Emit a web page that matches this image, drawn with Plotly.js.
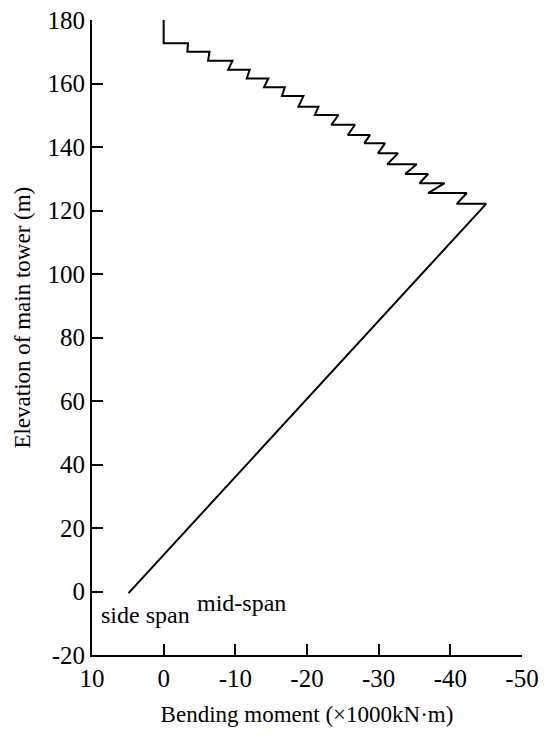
<!DOCTYPE html>
<html>
<head>
<meta charset="utf-8">
<script src="https://cdn.plot.ly/plotly-3.0.1.min.js"></script>
<style>
  body { margin: 0; background: #fff; }
  #chart { width: 550px; height: 736px; }
</style>
</head>
<body>
<div id="chart"></div>
<script>
// bending moment along the tower, read top -> bottom (x1000 kN·m)
const moment = [0, 0, -3.4, -3.3, -6.4, -6.2, -9.6, -9.0, -12.0, -11.6, -14.6, -14.0,
  -16.9, -16.5, -19.5, -18.8, -21.6, -21.1, -24.4, -23.4, -26.7, -25.7, -28.8, -28.0,
  -30.9, -29.9, -32.7, -31.2, -35.3, -33.7, -36.9, -35.7, -39.2, -36.9, -42.3, -40.9,
  -45.0, 4.9];
// elevation of each point (m)
const elevation = [180, 172.7, 172.7, 170.0, 170.0, 167.2, 167.2, 164.3, 164.3, 161.6, 161.6, 158.8,
  158.8, 156.1, 156.1, 152.7, 152.7, 150.1, 150.1, 147.0, 147.0, 143.8, 143.8, 141.2,
  141.2, 138.0, 138.0, 134.6, 134.6, 131.5, 131.5, 128.6, 128.6, 125.5, 125.5, 122.1,
  122.1, -0.5];

const xTicks = [10, 0, -10, -20, -30, -40, -50];
const yTicks = [-20, 0, 20, 40, 60, 80, 100, 120, 140, 160, 180];

// labels under the curve
const labelText = ["side span", "mid-span"];
const labelX = [2.6, -10.9];
const labelY = [-7.3, -3.5];

const serif = "Liberation Serif, Times New Roman, serif";

var trace = {
    x: moment,
    y: elevation,
    mode: 'lines',
    type: 'scatter',
    line: { color: 'black', width: 2 },
    showlegend: false
};

var annotations = [];
for (let i = 0; i < labelText.length; i++) {
    annotations.push({
        x: labelX[i], y: labelY[i], xref: 'x', yref: 'y',
        text: labelText[i], showarrow: false,
        font: { family: serif, size: 24, color: 'black' }
    });
}
// y title sits a bit above the axis middle in the original, so place it by hand
annotations.push({
    x: -0.161, y: 0.531, xref: 'paper', yref: 'paper',
    xanchor: 'center', yanchor: 'middle', textangle: -90,
    text: 'Elevation of main tower (m)', showarrow: false,
    font: { family: serif, size: 23, color: 'black' }
});

var layout = {
    width: 550,
    height: 736,
    margin: { l: 92, r: 28, t: 20, b: 81 },
    paper_bgcolor: 'white',
    plot_bgcolor: 'white',
    font: { family: serif, size: 22, color: 'black' },
    xaxis: {
        range: [10, -50],
        tickvals: xTicks,
        ticktext: xTicks.map(String),
        ticks: 'inside', ticklen: 11, tickwidth: 2, tickcolor: 'black',
        showline: true, linewidth: 2, linecolor: 'black',
        showgrid: false, zeroline: false,
        tickfont: { family: serif, size: 25 },
        title: { text: 'Bending moment (\u00d71000kN\u00b7m)', font: { family: serif, size: 23 }, standoff: 15 }
    },
    yaxis: {
        range: [-20, 180],
        tickvals: yTicks,
        ticktext: yTicks.map(String),
        ticks: 'inside', ticklen: 11, tickwidth: 2, tickcolor: 'black',
        showline: true, linewidth: 2, linecolor: 'black',
        showgrid: false, zeroline: false,
        tickfont: { family: serif, size: 25 }
    },
    annotations: annotations
};

Plotly.newPlot('chart', [trace], layout, { displayModeBar: false, staticPlot: true });
</script>
</body>
</html>
